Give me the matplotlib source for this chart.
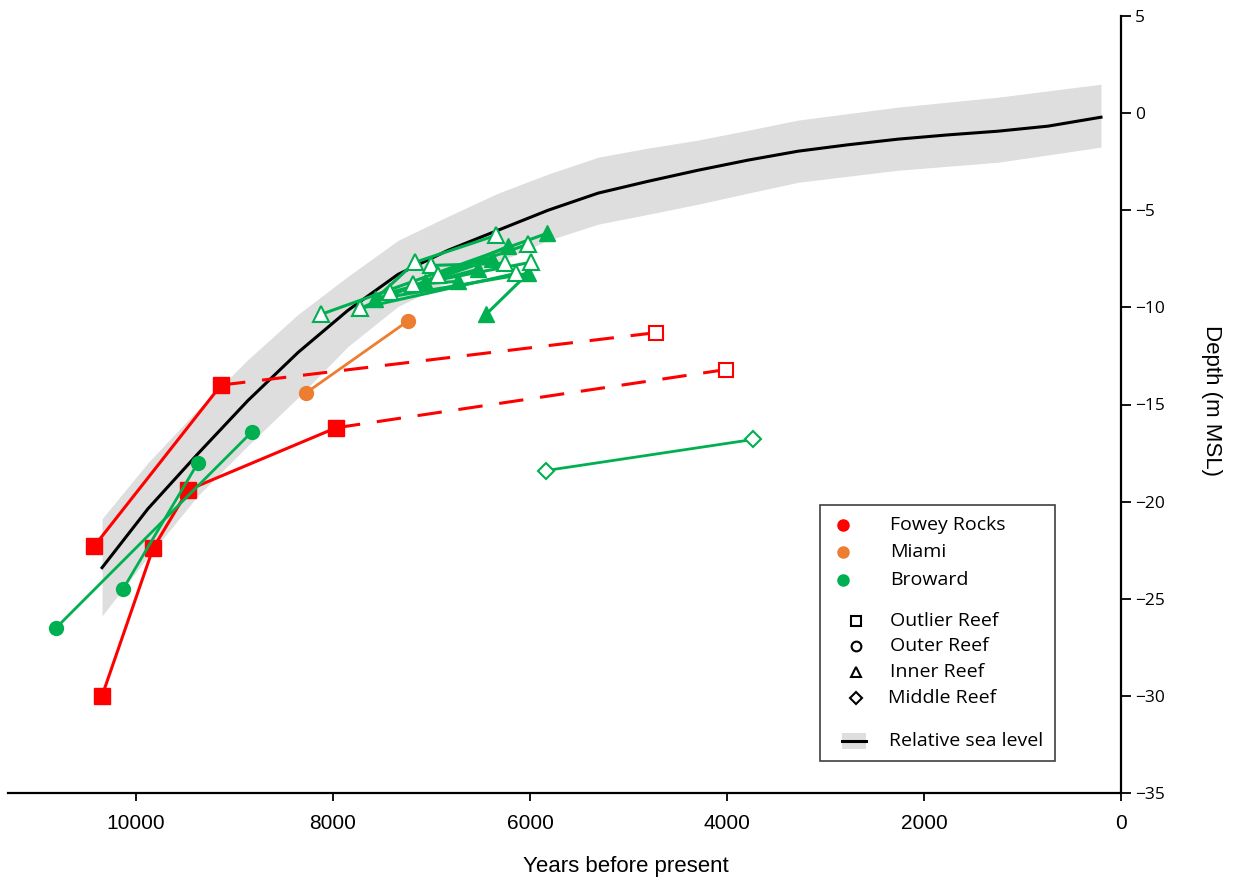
import matplotlib
matplotlib.use('Agg')
import matplotlib.pyplot as plt
from matplotlib.patches import Rectangle

# 相对海平面曲线 (years BP, m MSL)
rsl_age = [10345, 9878, 9371, 8863, 8355, 7848, 7340, 6832, 6325, 5817, 5310, 4802, 4294, 3787,
           3279, 2772, 2264, 1756, 1249, 741, 203]
rsl_depth = [-23.40, -20.36, -17.53, -14.79, -12.32, -10.15, -8.30, -7.06, -6.03, -5.00, -4.12,
             -3.51, -2.94, -2.42, -1.96, -1.63, -1.34, -1.12, -0.93, -0.67, -0.21]
# 误差带上下边界
band_age = [10345, 9878, 9371, 8863, 8355, 7848, 7340, 6832, 6325, 5817, 5310, 4802, 4294, 3787,
            3279, 2264, 1249, 203]
band_up = [-20.88, -17.99, -15.26, -12.68, -10.36, -8.40, -6.55, -5.31, -4.12, -3.14, -2.27,
           -1.80, -1.39, -0.88, -0.36, 0.31, 0.82, 1.49]
band_lo = [-25.88, -22.84, -19.69, -17.11, -14.64, -12.01, -9.95, -8.71, -7.68, -6.55, -5.72,
           -5.21, -4.69, -4.12, -3.56, -2.94, -2.53, -1.75]

# Fowey Rocks (outlier reef)
fowey_a_age = [10426, 9137]
fowey_a_depth = [-22.3, -14.0]
fowey_a_top_age = [9137, 4721]
fowey_a_top_depth = [-14.0, -11.3]
fowey_b_age = [10345, 9827, 9472, 7970]
fowey_b_depth = [-30.0, -22.4, -19.4, -16.2]
fowey_b_top_age = [7970, 4010]
fowey_b_top_depth = [-16.2, -13.2]

# Miami (outer reef)
miami_age = [8274, 7239]
miami_depth = [-14.4, -10.7]

# Broward outer reef
broward_a_age = [10812, 8822]
broward_a_depth = [-26.5, -16.4]
broward_b_age = [10132, 9371]
broward_b_depth = [-24.5, -18.0]

# Broward middle reef
broward_mid_age = [5838, 3736]
broward_mid_depth = [-18.4, -16.8]

# Broward inner reef
inner_open_age = [8122, 7726, 7421, 7168, 7005, 7188, 6934, 6345, 6254, 6020, 5990, 6142]
inner_open_depth = [-10.36, -10.05, -9.23, -7.68, -7.84, -8.82, -8.35, -6.29, -7.73, -6.75, -7.68, -8.25]
inner_fill_age = [7574, 7066, 6731, 6528, 6386, 6223, 5827, 6020, 6447]
inner_fill_depth = [-9.59, -8.71, -8.66, -8.04, -7.53, -6.86, -6.19, -8.25, -10.36]
inner_seg_age = [[8122, 5827], [7726, 6223], [7726, 6142], [7574, 6386], [7421, 6528],
                 [7168, 6345], [7168, 7574], [7188, 6731], [7005, 6254], [7066, 5990],
                 [6934, 6020], [6020, 6447], [7574, 6020]]
inner_seg_depth = [[-10.36, -6.19], [-10.05, -6.86], [-10.05, -8.25], [-9.59, -7.53], [-9.23, -8.04],
                   [-7.68, -6.29], [-7.68, -9.59], [-8.82, -8.66], [-7.84, -7.73], [-8.71, -7.68],
                   [-8.35, -6.75], [-8.25, -10.36], [-9.59, -8.25]]

RED = '#ff0000'
ORANGE = '#ed7d31'
GREEN = '#00b050'
NARROW = ['Liberation Sans Narrow', 'Liberation Sans']

W, H = 1234, 884
fig = plt.figure(figsize=(W / 100, H / 100), dpi=100)
ax = fig.add_axes([8 / W, 1 - 793 / H, 1113 / W, 777 / H])

# 误差带 + 曲线
ax.fill_between(band_age, band_lo, band_up, color='#dedede', lw=0, zorder=1)
ax.plot(rsl_age, rsl_depth, color='black', lw=2.2, zorder=2, solid_joinstyle='round')

# Fowey Rocks
ax.plot(fowey_a_age, fowey_a_depth, color=RED, lw=2.2, marker='s', ms=11, mec=RED, zorder=4)
ax.plot(fowey_b_age, fowey_b_depth, color=RED, lw=2.2, marker='s', ms=11, mec=RED, zorder=4)
for xs, ys in [(fowey_a_top_age, fowey_a_top_depth), (fowey_b_top_age, fowey_b_top_depth)]:
    ax.plot(xs, ys, color=RED, lw=2.2, ls=(0, (8, 5.5)), zorder=3)
    ax.plot(xs[1:], ys[1:], ls='none', marker='s', ms=10, mfc='white', mec=RED, mew=1.5, zorder=4)

# Miami
ax.plot(miami_age, miami_depth, color=ORANGE, lw=2, marker='o', ms=10, zorder=4)

# Broward
ax.plot(broward_a_age, broward_a_depth, color=GREEN, lw=2, marker='o', ms=10, zorder=4)
ax.plot(broward_b_age, broward_b_depth, color=GREEN, lw=2, marker='o', ms=10, zorder=4)
ax.plot(broward_mid_age, broward_mid_depth, color=GREEN, lw=2, marker='D', ms=8,
        mfc='white', mec=GREEN, mew=1.5, zorder=4)
for xs, ys in zip(inner_seg_age, inner_seg_depth):
    ax.plot(xs, ys, color=GREEN, lw=2.2, zorder=3)
ax.plot(inner_fill_age, inner_fill_depth, ls='none', marker='^', ms=11, color=GREEN, zorder=5)
ax.plot(inner_open_age, inner_open_depth, ls='none', marker='^', ms=11, mfc='white',
        mec=GREEN, mew=1.5, zorder=5)

# 坐标轴
ax.set_xlim(11300, 0)
ax.set_ylim(-35, 5)
ax.spines['left'].set_visible(False)
ax.spines['top'].set_visible(False)
ax.spines['right'].set_linewidth(1.6)
ax.spines['bottom'].set_linewidth(1.6)
ax.yaxis.tick_right()
ax.yaxis.set_label_position('right')
ax.set_xticks([10000, 8000, 6000, 4000, 2000, 0])
ax.set_yticks(range(-35, 6, 5))
ax.tick_params(axis='x', direction='out', length=6, width=1.3, pad=9, labelsize=15)
ax.tick_params(axis='y', direction='out', length=7, width=1.3, pad=3, labelsize=12.5)
for lab in ax.get_xticklabels():
    lab.set_family(NARROW)
for lab in ax.get_yticklabels():
    lab.set_family('Open Sans')

ax.set_xlabel('Years before present', fontsize=16, family=NARROW, va='center')
ax.xaxis.set_label_coords(0.555, -0.094)
ax.set_ylabel('Depth (m MSL)', fontsize=16, rotation=-90, va='center', family=NARROW)
ax.yaxis.set_label_coords(1.081, 0.505)

# 图例 (像素坐标)
lg = fig.add_axes([0, 0, 1, 1])
lg.set_xlim(0, W)
lg.set_ylim(H, 0)
lg.axis('off')
lg.add_patch(Rectangle((820, 505), 235, 256, fill=False, ec='#404040', lw=1.2))
for name, c, y in [('Fowey Rocks', RED, 525), ('Miami', ORANGE, 552), ('Broward', GREEN, 580)]:
    lg.plot([843], [y], marker='o', ms=8, color=c, ls='none')
    lg.text(890, y, name, fontsize=14, family='Open Sans', va='center')
for name, m, y in [('Outlier Reef', 's', 621), ('Outer Reef', 'o', 646),
                   ('Inner Reef', '^', 672), ('Middle Reef', 'D', 698)]:
    lg.plot([856], [y], marker=m, ms=7 if m != 'D' else 6, mfc='white', mec='black', mew=1.5, ls='none')
    lg.text(888 if m == 'D' else 890, y, name, fontsize=14, family='Open Sans', va='center')
lg.add_patch(Rectangle((842, 733), 24, 16, color='#dedede', lw=0))
lg.plot([842, 866], [741, 741], color='black', lw=2.2)
lg.text(889, 741, 'Relative sea level', fontsize=14, family='Open Sans', va='center')

fig.savefig('out.png', dpi=100)
